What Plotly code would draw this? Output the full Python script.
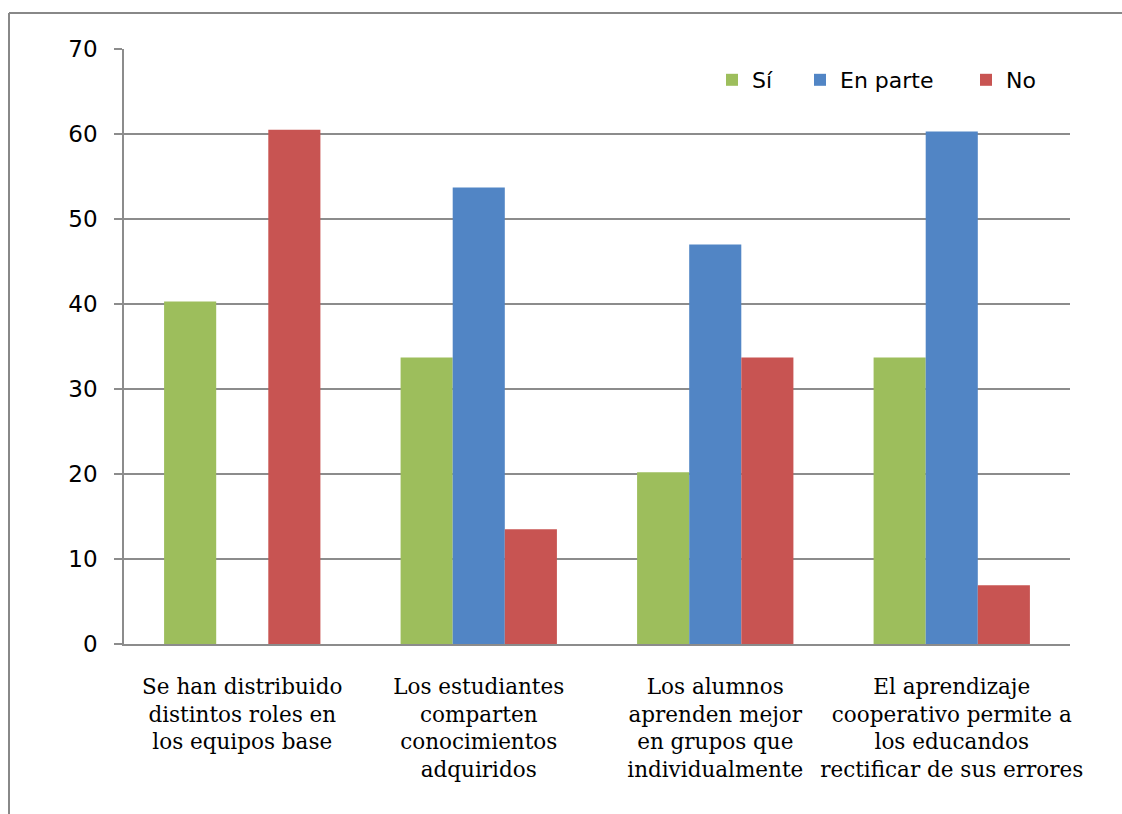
import plotly.graph_objects as go

# Survey categories (axis labels, with manual line breaks)
categories = [
    "Se han distribuido<br>distintos roles en<br>los equipos base",
    "Los estudiantes<br>comparten<br>conocimientos<br>adquiridos",
    "Los alumnos<br>aprenden mejor<br>en grupos que<br>individualmente",
    "El aprendizaje<br>cooperativo permite a<br>los educandos<br>rectificar de sus errores",
]

# Percent of answers per option
si = [40.3, 33.7, 20.2, 33.7]
en_parte = [0, 53.7, 47.0, 60.3]
no = [60.5, 13.5, 33.7, 6.9]

series_names = ["Sí", "En parte", "No"]
series_colors = ["#9DBE5C", "#5185C5", "#C85452"]
legend_ids = ["legend", "legend2", "legend3"]
legend_left_px = [712, 800, 966]

W, H = 1122, 814
L, R, T, B = 124, 1070, 49, 644
pw, ph = R - L, B - T

fig = go.Figure()
for name, vals, col, lg in zip(series_names, [si, en_parte, no], series_colors, legend_ids):
    fig.add_trace(go.Bar(
        x=categories, y=vals, name=name, legend=lg,
        marker=dict(color=col, line=dict(width=0)),
    ))

legend_style = dict(
    orientation="h", xanchor="left", yanchor="middle",
    y=1 - (80 - T) / ph,
    font=dict(family="DejaVu Sans", size=22, color="#000000"),
    bgcolor="rgba(0,0,0,0)", itemwidth=30,
)

grid = "#8C8C8C"
fig.update_layout(
    width=W, height=H,
    margin=dict(l=L, r=W - R, t=T, b=H - B, pad=0),
    paper_bgcolor="white", plot_bgcolor="white",
    barmode="group", bargap=0.339, bargroupgap=0,
    font=dict(family="DejaVu Sans", size=22, color="#000000"),
    showlegend=True,
    **{lg: dict(legend_style, x=(px - L) / pw) for lg, px in zip(legend_ids, legend_left_px)},
)
fig.update_yaxes(
    range=[0, 70], dtick=10, tick0=0,
    showgrid=True, gridcolor=grid, gridwidth=1.5,
    showline=True, linecolor=grid, linewidth=1.5,
    ticks="outside", ticklen=8, tickcolor=grid, tickwidth=1.5,
    tickfont=dict(family="DejaVu Sans", size=23, color="#000000"),
    ticklabelstandoff=12,
    zeroline=False, fixedrange=True,
)
fig.update_xaxes(
    showgrid=False, showline=True, linecolor=grid, linewidth=1.5,
    ticks="", tickangle=0,
    tickfont=dict(family="DejaVu Serif", size=21.5, color="#000000"),
    ticklabelstandoff=22,
    fixedrange=True,
)

# Chart frame lines (top and left edges of the outer border)
bx0 = (9 - L) / pw
by0 = 1 + (T - 13) / ph
fig.add_shape(type="line", xref="paper", yref="paper",
              x0=bx0, y0=by0, x1=(W - L) / pw, y1=by0,
              line=dict(color="#888888", width=2))
fig.add_shape(type="line", xref="paper", yref="paper",
              x0=bx0, y0=by0, x1=bx0, y1=(B - H) / ph,
              line=dict(color="#888888", width=2))

fig.write_html("out.html")
